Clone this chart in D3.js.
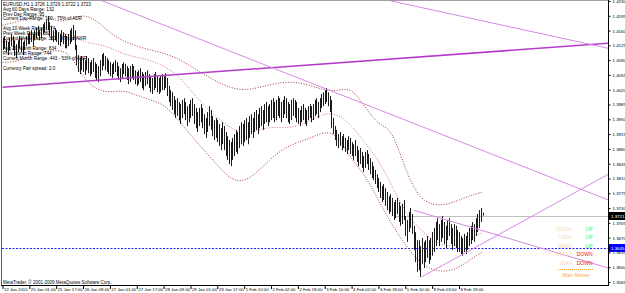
<!DOCTYPE html>
<html>
<head>
<meta charset="utf-8">
<script src="https://cdn.jsdelivr.net/npm/d3@7"></script>
<style>
  body { margin: 0; background: #fff; }
  svg { display: block; font-family: "Liberation Sans", Arial, sans-serif; }
</style>
</head>
<body>
<svg id="chart"></svg>
<script>
// hourly highs / lows, EURUSD H1 (22 Jan 2010 -> 9 Feb 2010)
const highs = [
  1.4142,1.4147,1.4137,1.4133,1.4142,1.4152,1.4147,1.4137,1.4128,1.4137,1.4147,1.4142,1.4133,1.4137,1.4147,1.4152,
  1.4156,1.4161,1.4152,1.4161,1.4166,1.4171,1.4161,1.4166,1.4175,1.4180,1.4185,1.4194,1.4180,1.4171,1.4161,1.4166,
  1.4161,1.4156,1.4152,1.4161,1.4156,1.4152,1.4147,1.4152,1.4161,1.4166,1.4173,1.4161,1.4126,1.4102,1.4095,1.4100,
  1.4095,1.4090,1.4100,1.4095,1.4085,1.4090,1.4095,1.4085,1.4081,1.4076,1.4090,1.4104,1.4107,1.4100,1.4095,1.4090,
  1.4085,1.4081,1.4085,1.4090,1.4085,1.4076,1.4071,1.4081,1.4085,1.4081,1.4076,1.4071,1.4076,1.4081,1.4076,1.4066,
  1.4062,1.4066,1.4071,1.4062,1.4057,1.4062,1.4066,1.4057,1.4052,1.4048,1.4057,1.4062,1.4052,1.4048,1.4052,1.4057,
  1.4052,1.4059,1.4048,1.4029,1.4019,1.4014,1.4005,1.3996,1.4000,1.3991,1.3986,1.3996,1.4000,1.3991,1.3981,1.3986,
  1.3996,1.4000,1.3986,1.3977,1.3967,1.3977,1.3986,1.3977,1.3962,1.3953,1.3967,1.3981,1.3972,1.3958,1.3948,1.3953,
  1.3948,1.3939,1.3929,1.3943,1.3934,1.3920,1.3910,1.3901,1.3896,1.3906,1.3915,1.3925,1.3920,1.3934,1.3943,1.3939,
  1.3948,1.3953,1.3943,1.3958,1.3962,1.3953,1.3967,1.3972,1.3962,1.3977,1.3981,1.3972,1.3986,1.3991,1.3981,1.3986,
  1.3996,1.4000,1.3991,1.3996,1.4005,1.4000,1.3991,1.3996,1.4005,1.4000,1.3991,1.3986,1.3996,1.4000,1.3996,1.3991,
  1.3977,1.3972,1.3981,1.3986,1.3977,1.3972,1.3981,1.3986,1.3981,1.3986,1.3996,1.4000,1.3991,1.4000,1.4010,1.4014,
  1.4019,1.4024,1.4014,1.4005,1.3996,1.3953,1.3934,1.3925,1.3915,1.3920,1.3910,1.3915,1.3906,1.3901,1.3910,1.3906,
  1.3896,1.3891,1.3901,1.3887,1.3877,1.3882,1.3873,1.3863,1.3873,1.3877,1.3868,1.3858,1.3849,1.3839,1.3830,1.3820,
  1.3811,1.3802,1.3792,1.3797,1.3787,1.3778,1.3768,1.3773,1.3764,1.3754,1.3759,1.3764,1.3754,1.3745,1.3750,1.3759,
  1.3721,1.3712,1.3731,1.3740,1.3726,1.3698,1.3683,1.3664,1.3664,1.3650,1.3669,1.3660,1.3664,1.3674,1.3664,1.3669,
  1.3683,1.3693,1.3707,1.3716,1.3702,1.3712,1.3721,1.3707,1.3698,1.3712,1.3716,1.3702,1.3693,1.3702,1.3698,1.3688,
  1.3683,1.3674,1.3669,1.3679,1.3674,1.3683,1.3693,1.3698,1.3707,1.3702,1.3716,1.3726,1.3735,1.3740,1.3729
];
const lows = [
  1.4114,1.4118,1.4109,1.4102,1.4114,1.4123,1.4114,1.4100,1.4095,1.4109,1.4118,1.4109,1.4102,1.4114,1.4123,1.4128,
  1.4128,1.4133,1.4123,1.4137,1.4142,1.4147,1.4137,1.4142,1.4152,1.4156,1.4161,1.4161,1.4147,1.4137,1.4133,1.4137,
  1.4133,1.4126,1.4123,1.4133,1.4128,1.4118,1.4118,1.4123,1.4128,1.4133,1.4137,1.4114,1.4078,1.4062,1.4057,1.4066,
  1.4062,1.4055,1.4066,1.4059,1.4052,1.4057,1.4062,1.4048,1.4043,1.4038,1.4052,1.4066,1.4076,1.4066,1.4062,1.4057,
  1.4052,1.4048,1.4057,1.4062,1.4052,1.4043,1.4038,1.4048,1.4057,1.4052,1.4043,1.4033,1.4038,1.4048,1.4043,1.4033,
  1.4029,1.4033,1.4038,1.4024,1.4019,1.4029,1.4033,1.4024,1.4014,1.4010,1.4019,1.4024,1.4014,1.4010,1.4014,1.4019,
  1.4019,1.4024,1.4005,1.3991,1.3981,1.3972,1.3962,1.3953,1.3958,1.3948,1.3939,1.3953,1.3962,1.3948,1.3934,1.3943,
  1.3953,1.3958,1.3939,1.3929,1.3920,1.3934,1.3943,1.3929,1.3915,1.3906,1.3920,1.3934,1.3925,1.3910,1.3901,1.3906,
  1.3896,1.3887,1.3877,1.3891,1.3877,1.3863,1.3854,1.3844,1.3839,1.3854,1.3863,1.3873,1.3868,1.3882,1.3891,1.3887,
  1.3896,1.3901,1.3891,1.3906,1.3915,1.3906,1.3920,1.3925,1.3915,1.3929,1.3934,1.3925,1.3939,1.3943,1.3934,1.3943,
  1.3948,1.3953,1.3943,1.3948,1.3958,1.3953,1.3943,1.3953,1.3962,1.3953,1.3943,1.3939,1.3948,1.3958,1.3953,1.3943,
  1.3939,1.3934,1.3943,1.3948,1.3939,1.3934,1.3948,1.3953,1.3943,1.3948,1.3958,1.3962,1.3953,1.3967,1.3977,1.3981,
  1.3986,1.3991,1.3981,1.3967,1.3929,1.3915,1.3901,1.3887,1.3882,1.3887,1.3877,1.3882,1.3873,1.3868,1.3877,1.3868,
  1.3863,1.3854,1.3863,1.3849,1.3839,1.3844,1.3835,1.3825,1.3835,1.3844,1.3830,1.3820,1.3811,1.3806,1.3797,1.3787,
  1.3778,1.3764,1.3754,1.3759,1.3745,1.3735,1.3726,1.3731,1.3721,1.3712,1.3716,1.3726,1.3707,1.3698,1.3702,1.3712,
  1.3674,1.3660,1.3683,1.3693,1.3679,1.3641,1.3612,1.3589,1.3593,1.3577,1.3608,1.3598,1.3612,1.3622,1.3608,1.3617,
  1.3627,1.3636,1.3650,1.3664,1.3650,1.3660,1.3669,1.3655,1.3645,1.3664,1.3674,1.3655,1.3641,1.3650,1.3645,1.3636,
  1.3636,1.3631,1.3627,1.3636,1.3631,1.3641,1.3650,1.3655,1.3664,1.3660,1.3674,1.3683,1.3693,1.3707,1.3722
];

// band readings every 8 bars
const bandIdx = [0,8,16,24,32,40,48,56,64,72,80,88,96,104,112,120,128,136,144,152,160,168,176,184,192,200,208,216,224,232,240,248,256,264,272,280,286];
const bandUpper = [1.4173,1.4180,1.4189,1.4199,1.4180,1.4185,1.4199,1.4185,1.4154,1.4135,1.4123,1.4114,1.4107,1.4095,1.4076,1.4057,1.4038,1.4024,1.4019,1.4024,1.4033,1.4038,1.4038,1.4029,1.4019,1.4017,1.4026,1.3979,1.3936,1.3929,1.3830,1.3764,1.3747,1.3747,1.3759,1.3771,1.3778];
const bandMid = [1.4133,1.4137,1.4147,1.4156,1.4156,1.4152,1.4133,1.4128,1.4121,1.4104,1.4097,1.4090,1.4076,1.4057,1.4019,1.3984,1.3953,1.3929,1.3915,1.3925,1.3932,1.3929,1.3934,1.3948,1.3965,1.3962,1.3936,1.3894,1.3854,1.3794,1.3728,1.3693,1.3664,1.3648,1.3653,1.3669,1.3683];
const bandLower = [1.4085,1.4085,1.4100,1.4109,1.4114,1.4109,1.4048,1.4019,1.4014,1.4019,1.4007,1.3996,1.3986,1.3953,1.3913,1.3877,1.3842,1.3806,1.3802,1.3825,1.3858,1.3882,1.3896,1.3906,1.3922,1.3913,1.3854,1.3818,1.3759,1.3700,1.3653,1.3612,1.3593,1.3589,1.3598,1.3622,1.3636];

// trend lines: [startBar, startPrice, endBar, endPrice]
const trendLines = [
  { p: [0, 1.4026, 361, 1.4130], color: "#b43cc8", w: 1.6 },
  { p: [58.4, 1.4232, 361, 1.3759], color: "#d58ae3", w: 1 },
  { p: [229.4, 1.4232, 361, 1.4118], color: "#d58ae3", w: 1 },
  { p: [249.7, 1.3577, 361, 1.3820], color: "#d58ae3", w: 1 },
  { p: [244.9, 1.3735, 361, 1.3598], color: "#d58ae3", w: 1 }
];

const priceTicks = [1.4230,1.4195,1.4160,1.4125,1.4090,1.4055,1.4020,1.3985,1.3950,1.3915,1.3880,1.3845,1.3810,1.3775,1.3740,1.3705,1.3670,1.3635,1.3600,1.3565];
const timeLabels = ["22 Jan 2010","25 Jan 01:00","25 Jan 17:00","26 Jan 09:00","27 Jan 01:00","27 Jan 17:00","28 Jan 09:00","29 Jan 01:00","29 Jan 17:00","1 Feb 10:00","2 Feb 02:00","2 Feb 18:00","3 Feb 10:00","4 Feb 02:00","4 Feb 18:00","5 Feb 10:00","8 Feb 03:00","8 Feb 19:00"];
const timeIdx = timeLabels.map((d, i) => i * 16);

const bidPrice = 1.3721;
const levelPrice = 1.3645;

const infoLines = [
  "EURUSD,H1  1.3726 1.3729 1.3722 1.3723",
  "Avg 60 Days Range: 132",
  "Prev Day Range: 95",
  "Current Day Range: 100 - 75% of ADR",
  "",
  "Avg 20 Week Range: 374",
  "Prev Week Range: 382",
  "Current Week Range: 363 - 97% of AWR",
  "",
  "Avg 20 Month Range: 834",
  "Prev Month Range: 744",
  "Current Month Range: 443 - 53% of AMR",
  "",
  "Currency Pair spread: 2.0"
];

const moveNames = ["TODAY", "Y-DAY", "WEEK", "MONTH", "YEAR"];
const moveDirs = ["UP", "UP", "UP", "DOWN", "DOWN"];

const width = 625, height = 293;
const plot = { left: 2, right: 608, top: 1, bottom: 285 };

const svg = d3.select("#chart")
  .attr("width", width)
  .attr("height", height)
  .style("background", "#fff");

const x = d3.scaleLinear().domain([0, 286]).range([2.5, 482.5]);
const y = d3.scaleLinear().domain([1.3565, 1.4230]).range([282, 1]);

svg.append("clipPath").attr("id", "plotclip")
  .append("rect")
  .attr("x", plot.left).attr("y", plot.top)
  .attr("width", plot.right - plot.left).attr("height", plot.bottom - plot.top);

const graph = svg.append("g").attr("clip-path", "url(#plotclip)");

// blue level line
graph.append("line")
  .attr("x1", plot.left).attr("x2", plot.right)
  .attr("y1", Math.round(y(levelPrice)) + 0.5).attr("y2", Math.round(y(levelPrice)) + 0.5)
  .attr("stroke", "#2020ff").attr("stroke-dasharray", "2,1.5");

// bid line
graph.append("line")
  .attr("x1", 395).attr("x2", plot.right)
  .attr("y1", Math.round(y(bidPrice)) + 0.5).attr("y2", Math.round(y(bidPrice)) + 0.5)
  .attr("stroke", "#c0c0c0");

// bands
const bandLine = d3.line()
  .x((d, i) => x(bandIdx[i]))
  .y(d => y(d))
  .curve(d3.curveBasis);

[[bandUpper, "#a23b3b"], [bandMid, "#d97373"], [bandLower, "#a23b3b"]].forEach(([vals, c]) => {
  graph.append("path")
    .attr("d", bandLine(vals))
    .attr("fill", "none")
    .attr("stroke", c)
    .attr("stroke-width", 1)
    .attr("stroke-dasharray", "1,1.6");
});

// bars
graph.selectAll("line.bar")
  .data(highs)
  .enter().append("line")
  .attr("class", "bar")
  .attr("x1", (d, i) => Math.round(x(i)) + 0.5).attr("x2", (d, i) => Math.round(x(i)) + 0.5)
  .attr("y1", d => y(d))
  .attr("y2", (d, i) => y(lows[i]))
  .attr("stroke", "#1a1a1a")
  .attr("stroke-width", 1);

// trend lines
trendLines.forEach(t => {
  graph.append("line")
    .attr("x1", x(t.p[0])).attr("y1", y(t.p[1]))
    .attr("x2", x(t.p[2])).attr("y2", y(t.p[3]))
    .attr("stroke", t.color)
    .attr("stroke-width", t.w);
});

// frame
svg.append("line").attr("x1", plot.left).attr("x2", plot.right + 1)
  .attr("y1", 0.5).attr("y2", 0.5).attr("stroke", "#a0a0a0");
svg.append("line").attr("x1", 1.5).attr("x2", 1.5)
  .attr("y1", 0).attr("y2", plot.bottom).attr("stroke", "#606060");
svg.append("line").attr("x1", 1).attr("x2", plot.right + 1)
  .attr("y1", plot.bottom + 0.5).attr("y2", plot.bottom + 0.5).attr("stroke", "#000");

// price axis
const yAxis = d3.axisRight(y)
  .tickValues(priceTicks)
  .tickFormat(d3.format(".4f"))
  .tickSize(2)
  .tickPadding(2);

const yg = svg.append("g")
  .attr("transform", "translate(" + (plot.right + 0.5) + ",0)")
  .call(yAxis);
yg.select(".domain").attr("d", "M0,0V" + (plot.bottom + 1)).attr("stroke", "#000");
yg.selectAll("text").attr("font-size", 4.4).attr("fill", "#000")
  .attr("font-family", "Liberation Sans, Arial, sans-serif");

// price tags on axis
[[bidPrice, "#000"], [levelPrice, "#0000ff"]].forEach(([p, c]) => {
  const yy = Math.round(y(p));
  svg.append("rect").attr("x", plot.right + 1).attr("y", yy - 4)
    .attr("width", 16).attr("height", 8).attr("fill", c);
  svg.append("text").attr("x", plot.right + 3).attr("y", yy + 1.6)
    .attr("font-size", 4.4).attr("fill", "#fff")
    .text(d3.format(".4f")(p));
});

// time axis
const xAxis = d3.axisBottom(x)
  .tickValues(timeIdx)
  .tickFormat((d, i) => timeLabels[i])
  .tickSize(3)
  .tickPadding(0);

const xg = svg.append("g")
  .attr("transform", "translate(0," + (plot.bottom + 1) + ")")
  .call(xAxis);
xg.select(".domain").remove();
xg.selectAll(".tick line").attr("stroke", "#000");
xg.selectAll("text")
  .attr("font-size", 4.3)
  .attr("text-anchor", "start")
  .attr("x", 1)
  .attr("dy", "-0.05em")
  .attr("y", 5.2)
  .attr("fill", "#000");

// info text
const info = svg.append("g").attr("font-size", 4.6).attr("fill", "#000");
infoLines.forEach((t, i) => {
  if (!t) return;
  info.append("text").attr("x", 3).attr("y", 5.6 + i * 4.95).text(t);
});

svg.append("text")
  .attr("x", 3).attr("y", 283.5)
  .attr("font-size", 4.5)
  .text("MetaTrader, \u00a9 2001-2009 MetaQuotes Software Corp.");

// main moves panel
const moves = svg.append("g").attr("font-size", 5);
moveNames.forEach((n, i) => {
  const yy = 230.5 + i * 8.6;
  moves.append("text").attr("x", 572.5).attr("y", yy)
    .attr("text-anchor", "end").attr("fill", "#fcd9b6").text(n);
  moves.append("text").attr("x", 592.5).attr("y", yy)
    .attr("text-anchor", "end")
    .attr("fill", moveDirs[i] === "UP" ? "#33ee33" : "#ee1111")
    .text(moveDirs[i]);
});
moves.append("line")
  .attr("x1", 558).attr("x2", 593)
  .attr("y1", 269.5).attr("y2", 269.5)
  .attr("stroke", "#ffa030").attr("stroke-dasharray", "1,1");
moves.append("text").attr("x", 576).attr("y", 276.5)
  .attr("text-anchor", "middle").attr("fill", "#ffa040")
  .text("Main Moves");
</script>
</body>
</html>
